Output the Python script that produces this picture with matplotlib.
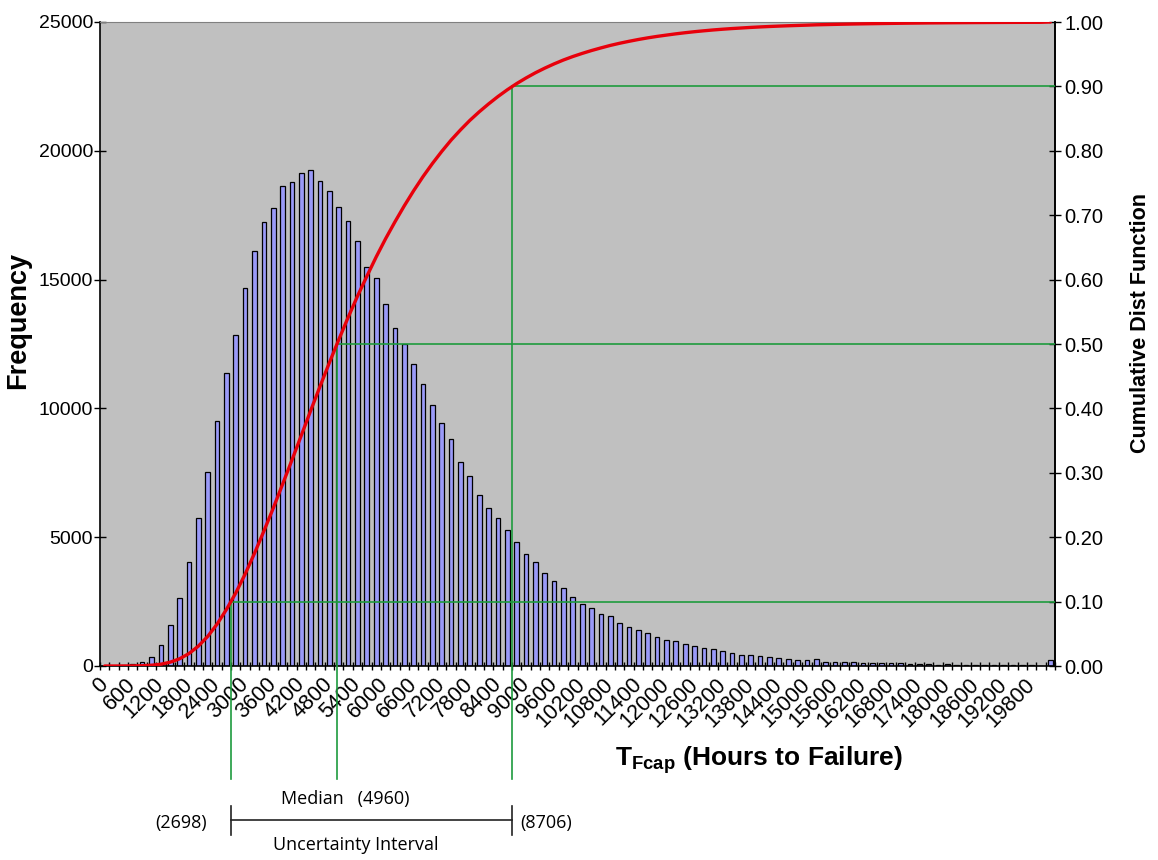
import numpy as np
import matplotlib
matplotlib.use("Agg")
import matplotlib.pyplot as plt
import matplotlib.transforms as mtransforms

# ---------------- data ----------------
bin_width = 200
freq = [0, 5, 20, 60, 144, 367, 800, 1574, 2636, 4039,
        5744, 7541, 9521, 11384, 12852, 14662, 16105, 17220, 17784, 18636,
        18793, 19121, 19252, 18820, 18426, 17836, 17285, 16498, 15475, 15043,
        14059, 13118, 12484, 11720, 10957, 10129, 9418, 8797, 7904, 7387,
        6649, 6132, 5731, 5265, 4812, 4347, 4023, 3609, 3312, 3027,
        2691, 2419, 2238, 2031, 1928, 1682, 1514, 1410, 1268, 1138,
        1009, 977, 872, 794, 703, 651, 573, 508, 443, 443,
        378, 339, 299, 273, 247, 234, 260, 168, 168, 155,
        142, 129, 116, 116, 103, 103, 90, 78, 90, 52,
        65, 52, 52, 52, 39, 39, 39, 39, 26, 26,
        13, 225]
tick_label_step = 3
quantile_values = [2698, 4960, 8706]
quantile_levels = [0.10, 0.50, 0.90]
left_ticks = [0, 5000, 10000, 15000, 20000, 25000]
right_ticks = [0.0, 0.1, 0.2, 0.3, 0.4, 0.5, 0.6, 0.7, 0.8, 0.9, 1.0]

# ---------------- style ----------------
plt.rcParams['font.family'] = ['Liberation Sans', 'DejaVu Sans']
W, H = 1158, 860
fig = plt.figure(figsize=(W / 100, H / 100), dpi=100)
L, R, T, B = 100, 1055, 22, 666
ax = fig.add_axes([L / W, 1 - B / H, (R - L) / W, (B - T) / H])
ax.set_facecolor('#C0C0C0')

idx = np.arange(len(freq))
ax.bar(idx, freq, width=0.5, color='#9A9AF8', edgecolor='black', linewidth=0.9, zorder=2)
ax.set_xlim(-0.5, len(freq) - 0.5)
ax.set_ylim(0, 25000)
ax.set_yticks(left_ticks)
ax.set_yticklabels([str(v) for v in left_ticks], fontsize=14)
ax.tick_params(axis='y', direction='inout', length=8, width=1, pad=1)

lab_idx = idx[::tick_label_step]
lab_idx = lab_idx[lab_idx * bin_width < 20000]
ax.set_xticks(lab_idx)
ax.set_xticklabels([str(i * bin_width) for i in lab_idx], rotation=45, ha='right',
                   va='center', rotation_mode='anchor', fontsize=15.5)
ax.tick_params(axis='x', which='major', length=0, pad=11)
ax.set_xticks(np.arange(len(freq) + 1) - 0.5, minor=True)
ax.tick_params(axis='x', which='minor', direction='inout', length=6, width=1)

for s in ['left', 'bottom', 'right']:
    ax.spines[s].set_color('black')
    ax.spines[s].set_linewidth(1.2)
ax.spines['top'].set_color('#808080')

# cumulative distribution (from histogram)
ax2 = ax.twinx()
cdf = np.cumsum(freq) / np.sum(freq)
ax2.set_ylim(0, 1)
ax2.set_yticks(right_ticks)
ax2.set_yticklabels(['%.2f' % v for v in right_ticks], fontsize=14.5)
ax2.tick_params(axis='y', direction='inout', length=8, width=1, pad=3)
ax2.spines['right'].set_linewidth(1.2)
ax2.spines['top'].set_visible(False)
ax2.spines['left'].set_visible(False)
ax2.spines['bottom'].set_visible(False)

green = '#1E9B3E'
xmax = len(freq) - 0.5
for q, lev in zip(quantile_values, quantile_levels):
    xq = q / bin_width
    ax2.plot([xq, xmax], [lev, lev], color=green, lw=1.2, zorder=3)
    ax2.plot([xq, xq], [lev, -0.175], color=green, lw=1.2, zorder=3, clip_on=False)

ax2.plot(idx, cdf, color='#E8000B', lw=2.4, zorder=4, solid_capstyle='round')

# axis titles
fig.text(18 / W, 1 - 320 / H, 'Frequency', rotation=90, fontsize=19.5, fontweight='bold',
         ha='center', va='center')
fig.text(1140 / W, 1 - 323 / H, 'Cumulative Dist Function', rotation=90, fontsize=15.5,
         fontweight='bold', ha='center', va='center')
fig.text(615 / W, 1 - 760 / H, r'T$_{\mathregular{Fcap}}$ (Hours to Failure)', fontsize=19,
         fontweight='bold', ha='left', va='center')

# uncertainty interval annotation
ann_font = ['Open Sans', 'DejaVu Sans']
trans = mtransforms.blended_transform_factory(ax.transData, fig.transFigure)
x_lo = quantile_values[0] / bin_width
x_hi = quantile_values[2] / bin_width
y_br = 1 - 820 / H
fig.add_artist(plt.Line2D([x_lo, x_hi], [y_br, y_br], transform=trans, color='#222222', lw=1.2))
for xe in (x_lo, x_hi):
    fig.add_artist(plt.Line2D([xe, xe], [1 - 806 / H, 1 - 835 / H], transform=trans,
                              color='#222222', lw=1.2))
fig.text(345 / W, 1 - 799 / H, 'Median   (%d)' % quantile_values[1], family=ann_font,
         fontsize=13, ha='center', va='center')
fig.text(207 / W, 1 - 823 / H, '(%d)' % quantile_values[0], family=ann_font,
         fontsize=13, ha='right', va='center')
fig.text(520 / W, 1 - 823 / H, '(%d)' % quantile_values[2], family=ann_font,
         fontsize=13, ha='left', va='center')
fig.text(356 / W, 1 - 845 / H, 'Uncertainty Interval', family=ann_font,
         fontsize=13, ha='center', va='center')

fig.savefig('out.png', dpi=100)
